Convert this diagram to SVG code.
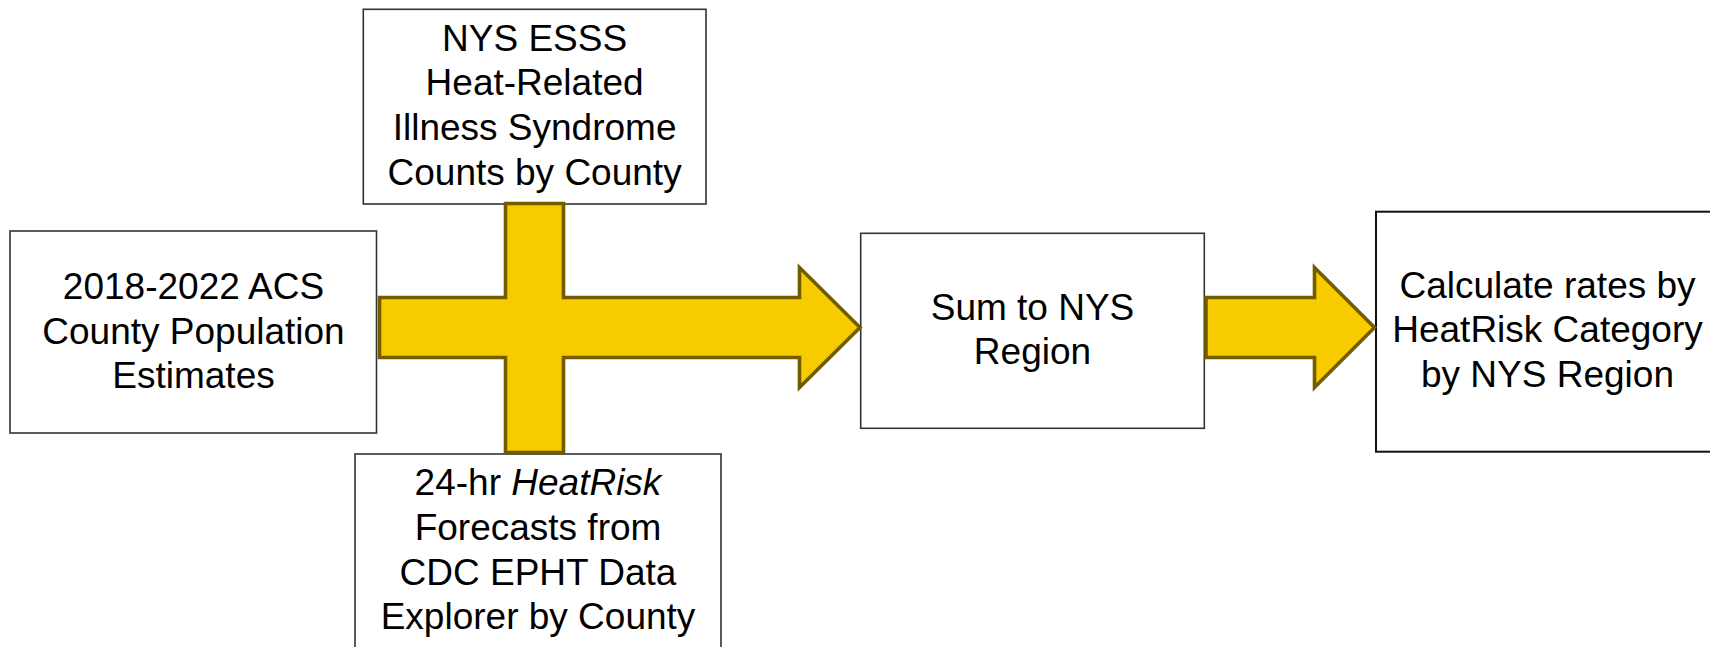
<svg xmlns="http://www.w3.org/2000/svg" width="1710" height="647" viewBox="0 0 1710 647">
<style>
.box{fill:#ffffff;stroke:#333333;stroke-width:1.6}
.box2{fill:#ffffff;stroke:#111111;stroke-width:2}
.lbl{font-family:"Liberation Sans",Arial,sans-serif;font-size:37px;fill:#000000;text-anchor:middle}
.arrow{fill:#F8CB00;stroke:#715D00;stroke-width:3.6;stroke-linejoin:miter}
</style>
<rect width="1710" height="647" fill="#ffffff"/>
<g id="node-acs">
<rect class="box" x="10" y="231" width="366.5" height="202"/>
<text class="lbl" x="193.5" y="299">2018-2022 ACS</text>
<text class="lbl" x="193.5" y="343.5">County Population</text>
<text class="lbl" x="193.5" y="388.2">Estimates</text>
</g>
<g id="node-esss">
<rect class="box" x="363.3" y="9.3" width="342.7" height="194.7"/>
<text class="lbl" x="534.6" y="50.5">NYS ESSS</text>
<text class="lbl" x="534.6" y="95.2">Heat-Related</text>
<text class="lbl" x="534.6" y="139.9">Illness Syndrome</text>
<text class="lbl" x="534.6" y="184.6">Counts by County</text>
</g>
<g id="node-heatrisk">
<rect class="box" x="355" y="454" width="366" height="210"/>
<text class="lbl" x="538" y="495.3">24-hr <tspan font-style="italic">HeatRisk</tspan></text>
<text class="lbl" x="538" y="540">Forecasts from</text>
<text class="lbl" x="538" y="584.6">CDC EPHT Data</text>
<text class="lbl" x="538" y="629.2">Explorer by County</text>
</g>
<g id="node-sum">
<rect class="box" x="860.7" y="233.3" width="343.6" height="195"/>
<text class="lbl" x="1032.5" y="319.5">Sum to NYS</text>
<text class="lbl" x="1032.5" y="364.2">Region</text>
</g>
<g id="node-rates">
<rect class="box2" x="1376" y="211.7" width="344" height="240"/>
<text class="lbl" x="1547.5" y="297.5">Calculate rates by</text>
<text class="lbl" x="1547.5" y="342.2">HeatRisk Category</text>
<text class="lbl" x="1547.5" y="386.9">by NYS Region</text>
</g>
<g id="connectors">
<path class="arrow" d="M379.5,297.5 H505.5 V203.5 H563.5 V297.5 H799.5 V267.5 L860,327.5 L799.5,387.5 V357.5 H563.5 V452.5 H505.5 V357.5 H379.5 Z"/>
<path class="arrow" d="M1206,297.5 H1314.5 V267.5 L1374.5,327.5 L1314.5,387.5 V357.5 H1206 Z"/>
</g>
</svg>
